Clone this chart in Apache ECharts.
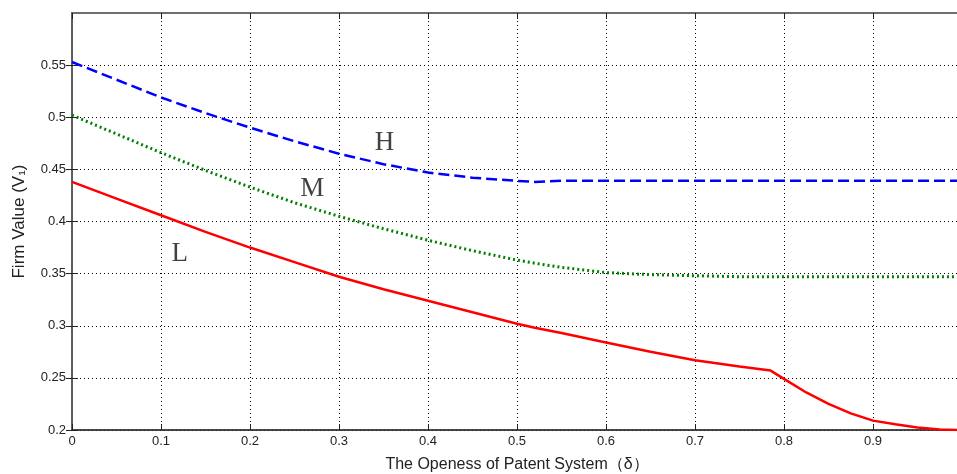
<!DOCTYPE html>
<html>
<head>
<meta charset="utf-8">
<script src="https://cdn.jsdelivr.net/npm/echarts@6/dist/echarts.min.js"></script>
<style>
  html, body { margin: 0; padding: 0; background: #fff; }
  #chart { width: 957px; height: 474px; }
</style>
</head>
<body>
<div id="chart"></div>
<script>
// openness of patent system (delta)
var delta = [0, 0.05, 0.1, 0.15, 0.2, 0.25, 0.3, 0.35, 0.4, 0.45, 0.5, 0.52, 0.55, 0.6, 0.65, 0.7, 0.75, 0.785, 0.8, 0.825, 0.85, 0.875, 0.9, 0.925, 0.95, 0.975, 1.0];

var highValues = [0.553, 0.536, 0.519, 0.504, 0.490, 0.477, 0.465, 0.455, 0.447, 0.442, 0.439, 0.438, 0.439, 0.439, 0.439, 0.439, 0.439, 0.439, 0.439, 0.439, 0.439, 0.439, 0.439, 0.439, 0.439, 0.439, 0.439];
var midValues = [0.502, 0.484, 0.466, 0.449, 0.433, 0.418, 0.405, 0.393, 0.382, 0.372, 0.363, 0.360, 0.356, 0.351, 0.349, 0.348, 0.347, 0.347, 0.347, 0.347, 0.347, 0.347, 0.347, 0.347, 0.347, 0.347, 0.347];
var lowValues = [0.438, 0.422, 0.406, 0.390, 0.375, 0.361, 0.347, 0.335, 0.324, 0.313, 0.302, 0.298, 0.293, 0.284, 0.275, 0.267, 0.261, 0.257, 0.249, 0.236, 0.225, 0.216, 0.209, 0.2055, 0.2025, 0.2005, 0.200];

// curve labels placed in data space
var curveLabels = [
  { name: 'H', x: 0.351, y: 0.475 },
  { name: 'M', x: 0.270, y: 0.431 },
  { name: 'L', x: 0.121, y: 0.369 }
];

var yTicks = [0.2, 0.25, 0.3, 0.35, 0.4, 0.45, 0.5, 0.55];

function pairs(xs, ys) {
  return xs.map(function (x, i) { return [x, ys[i]]; });
}

var chart = echarts.init(document.getElementById('chart'));

var labelFont = "'Liberation Sans Narrow', 'Liberation Sans', Arial, sans-serif";
var gridLine = { show: true, lineStyle: { color: '#000', type: [1, 3], width: 1 } };

var option = {
  animation: false,
  grid: {
    left: 72, top: 13, width: 890, height: 417,
    outerBoundsMode: 'none', containLabel: false,
    show: true, borderColor: '#666', borderWidth: 1.5, backgroundColor: '#fff'
  },
  xAxis: [{
    type: 'value', min: 0, max: 1, interval: 0.1,
    name: 'The Openess of Patent System（δ）',
    nameLocation: 'middle', nameGap: 27,
    nameTextStyle: { fontFamily: labelFont, fontSize: 16, color: '#222' },
    axisLine: { lineStyle: { color: '#333', width: 1.5 } },
    axisTick: { inside: true, length: 6, lineStyle: { color: '#222' } },
    axisLabel: { fontFamily: labelFont, fontSize: 13, color: '#222', margin: 5,
      formatter: function (v) { return String(+v.toFixed(1)); } },
    splitLine: gridLine
  }, {
    type: 'value', min: 0, max: 1, interval: 0.1, position: 'top',
    axisLine: { lineStyle: { color: '#666', width: 1.5 } },
    axisTick: { inside: true, length: 6, lineStyle: { color: '#222' } },
    axisLabel: { show: false }, splitLine: { show: false }
  }],
  yAxis: [{
    type: 'value', min: 0.2, max: 0.6, interval: 0.05,
    name: 'Firm Value (V\u2081)',
    nameLocation: 'middle', nameGap: 44,
    nameTextStyle: { fontFamily: labelFont, fontSize: 17, color: '#222' },
    axisLine: { lineStyle: { color: '#333', width: 1.5 } },
    axisTick: { inside: true, length: 6, customValues: yTicks, lineStyle: { color: '#222' } },
    axisLabel: { fontFamily: labelFont, fontSize: 13, color: '#222', margin: 6,
      formatter: function (v) {
        var r = +v.toFixed(2);
        return yTicks.indexOf(r) >= 0 ? String(r) : '';
      } },
    splitLine: gridLine
  }, {
    type: 'value', min: 0.2, max: 0.6, interval: 0.05, position: 'right',
    axisLine: { lineStyle: { color: '#666', width: 1.5 } },
    axisTick: { inside: true, length: 6, customValues: yTicks, lineStyle: { color: '#222' } },
    axisLabel: { show: false }, splitLine: { show: false }
  }],
  series: [{
    name: 'H', type: 'line', data: pairs(delta, highValues),
    symbol: 'none',
    lineStyle: { color: '#0000ff', width: 2.5, type: [11, 5] }
  }, {
    name: 'M', type: 'line', data: pairs(delta, midValues),
    symbol: 'none',
    lineStyle: { color: '#008000', width: 3, type: [2, 3] }
  }, {
    name: 'L', type: 'line', data: pairs(delta, lowValues),
    symbol: 'none',
    lineStyle: { color: '#ff0000', width: 2.5 }
  }, {
    type: 'scatter', symbolSize: 0, silent: true,
    data: curveLabels.map(function (d) { return { name: d.name, value: [d.x, d.y] }; }),
    label: {
      show: true, position: 'inside', formatter: '{b}',
      fontFamily: "'Liberation Serif', 'Times New Roman', serif",
      fontSize: 27, color: '#111'
    }
  }]
};

chart.setOption(option);
</script>
</body>
</html>
